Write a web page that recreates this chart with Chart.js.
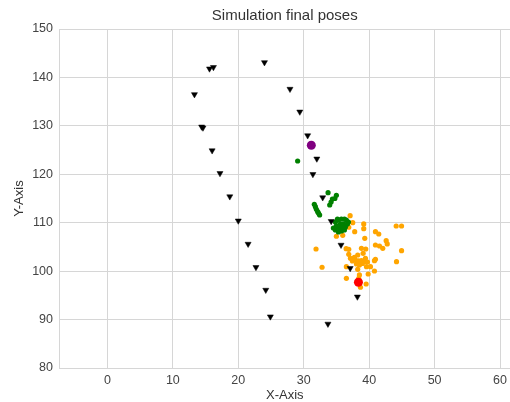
<!DOCTYPE html>
<html>
<head>
<meta charset="utf-8">
<script src="https://cdn.jsdelivr.net/npm/chart.js@4"></script>
<style>
  html, body { margin: 0; padding: 0; background: #fff; overflow: hidden; }
  /* canvas is a little wider than the window so the plot runs to the right edge */
  #wrap { width: 510px; height: 402px; overflow: hidden; }
</style>
</head>
<body>
<div id="wrap"><canvas id="posesChart" width="515" height="402"></canvas></div>
<script>
// Simulation final poses
const xTicks = [0, 10, 20, 30, 40, 50, 60];
const yTicks = [80, 90, 100, 110, 120, 130, 140, 150];

// black triangles (trajectory samples)
const trajX = [24.0, 16.2, 15.6, 13.3, 27.9, 29.4, 14.4, 14.6, 30.6, 16.0, 32.0, 31.4, 17.2,
               18.7, 32.9, 20.0, 34.2, 21.5, 35.7, 22.7, 37.1, 24.2, 38.2, 24.9, 33.7];
const trajY = [143.1, 142.1, 141.8, 136.5, 137.6, 132.9, 129.8, 129.6, 128.0, 124.9, 123.2, 120.0, 120.2,
               115.4, 115.2, 110.4, 110.3, 105.6, 105.4, 100.8, 100.6, 96.1, 94.7, 90.6, 89.1];

// green poses
const greenX = [29.07, 33.72, 34.99, 34.76, 34.38, 34.18, 33.97, 31.62, 31.78, 31.93, 32.13, 32.28, 32.43,
                34.84, 35.30, 35.76, 36.22, 36.52, 35.61, 36.06, 36.68, 34.99, 35.45, 35.91, 36.37,
                34.84, 35.30, 35.76, 36.22, 34.53, 36.83, 35.15];
const greenY = [122.74, 116.20, 115.66, 115.00, 114.90, 114.28, 113.66, 113.80, 113.31, 112.77, 112.28, 111.94, 111.59,
                110.15, 110.56, 110.77, 110.77, 110.56, 109.74, 109.74, 109.74, 109.33, 108.91, 108.91, 109.12,
                108.50, 108.08, 108.29, 108.50, 108.91, 110.15, 110.77];

// orange poses
const orangeX = [37.09, 39.17, 39.17, 37.79, 36.88, 35.96, 34.99, 37.49, 40.96, 41.47, 44.13, 44.95,
                 39.33, 42.60, 40.96, 41.58, 42.08, 42.76, 44.95, 38.82, 39.48, 36.48, 36.88, 31.88,
                 39.08, 36.88, 38.25, 37.14, 40.81, 37.44, 37.90, 38.36, 38.82, 39.28, 39.74, 38.06,
                 38.97, 38.51, 44.18, 32.80, 36.52, 38.25, 39.59, 40.20, 40.81, 39.85, 38.51, 36.52,
                 38.41, 39.54, 38.67, 37.75, 39.43, 40.96];
const orangeY = [111.45, 109.74, 108.77, 108.15, 109.06, 107.40, 107.20, 110.01, 108.15, 107.67, 109.32, 109.32,
                 106.78, 106.29, 105.40, 105.19, 104.72, 105.61, 104.22, 104.72, 104.57, 104.64, 104.51, 104.57,
                 103.68, 103.48, 103.33, 102.65, 102.16, 102.10, 102.30, 102.10, 102.20, 101.99, 101.89, 101.48,
                 101.58, 101.27, 101.95, 100.80, 100.92, 100.38, 100.92, 100.92, 100.03, 99.41, 99.21, 98.52,
                 98.52, 97.35, 96.67, 102.86, 102.65, 102.44];

const purpleX = [31.16];
const purpleY = [125.99];
const redX = [38.36];
const redY = [97.70];

function pts(xs, ys) {
    return xs.map((x, i) => ({ x: x, y: ys[i] }));
}

const fontFamily = '"Liberation Sans", Arial, sans-serif';
const gridColor = '#d6d6d6';

const ctx = document.getElementById('posesChart');
const posesChart = new Chart(ctx, {
    type: 'scatter',
    data: {
        datasets: [
            // first dataset is drawn on top
            { data: pts(redX, redY), backgroundColor: '#ff0000', borderColor: '#ff0000', pointRadius: 4.5, borderWidth: 0 },
            { data: pts(purpleX, purpleY), backgroundColor: '#800080', borderColor: '#800080', pointRadius: 4.5, borderWidth: 0 },
            { data: pts(trajX, trajY), backgroundColor: '#000000', borderColor: '#000000', pointStyle: 'triangle',
              pointRotation: 180, pointRadius: 3.5, borderWidth: 0.5 },
            { data: pts(greenX, greenY), backgroundColor: '#008000', borderColor: '#008000', pointRadius: 2.6, borderWidth: 0 },
            { data: pts(orangeX, orangeY), backgroundColor: '#ffa500', borderColor: '#ffa500', pointRadius: 2.6, borderWidth: 0 }
        ]
    },
    options: {
        responsive: false,
        animation: false,
        layout: { padding: 0 },
        plugins: {
            legend: { display: false },
            tooltip: { enabled: false },
            title: {
                display: true,
                fullSize: false,
                text: 'Simulation final poses',
                color: '#333',
                font: { family: fontFamily, size: 15, weight: 'normal' },
                padding: { top: 7, bottom: 4 }
            }
        },
        scales: {
            x: {
                min: -7.4,
                max: 61.6,
                afterBuildTicks: s => { s.ticks = xTicks.map(v => ({ value: v })); },
                afterFit: s => { s.height = 34; },
                grid: { color: gridColor, drawTicks: false },
                border: { color: gridColor },
                ticks: { color: '#444', padding: 5, font: { family: fontFamily, size: 12.5 } },
                title: { display: true, text: 'X-Axis', color: '#333', padding: 0,
                         font: { family: fontFamily, size: 13, lineHeight: 1 } }
            },
            y: {
                min: 80,
                max: 150,
                afterBuildTicks: s => { s.ticks = yTicks.map(v => ({ value: v })); },
                afterFit: s => { s.width = 59; },
                grid: { color: gridColor, drawTicks: false },
                border: { color: gridColor },
                ticks: { color: '#444', padding: 6, font: { family: fontFamily, size: 12.5 } },
                title: { display: true, text: 'Y-Axis', color: '#333', padding: { top: 12, bottom: 0 },
                         font: { family: fontFamily, size: 13 } }
            }
        }
    }
});
</script>
</body>
</html>
